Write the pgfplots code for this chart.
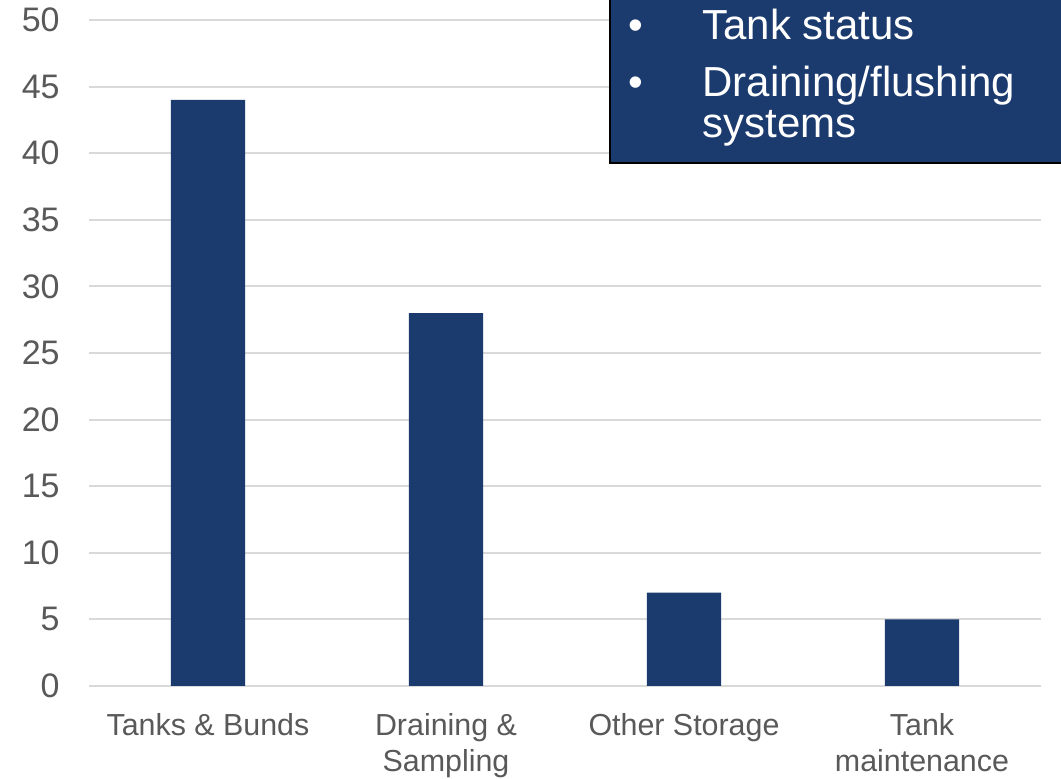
\documentclass[border=0pt]{standalone}
\usepackage{fontspec}
\setmainfont{Liberation Sans}
\usepackage{pgfplots}
\pgfplotsset{compat=1.18}
\definecolor{navy}{RGB}{27,58,110}
\definecolor{gridgray}{RGB}{217,217,217}
\definecolor{labelgray}{RGB}{89,89,89}
\begin{document}
\begin{tikzpicture}[x=0.5pt,y=0.5pt]
\path[use as bounding box, fill=white] (0,0) rectangle (1061,779);
\begin{axis}[
  at={(44.5pt,46.5pt)}, anchor=south west,
  scale only axis, width=476pt, height=333pt,
  xmin=-0.5, xmax=3.5, ymin=0, ymax=50,
  ytick={0,5,...,50},
  xtick={0,1,2,3},
  xticklabels={Tanks \& Bunds, Draining \&\\Sampling, Other Storage, Tank\\maintenance},
  ymajorgrids, grid style={gridgray, line width=1pt},
  axis line style={draw=none},
  major tick length=0pt,
  tick label style={labelgray},
  yticklabel style={font=\fontsize{17}{20}\selectfont, anchor=east, inner sep=0pt, xshift=-14.5pt},
  xticklabel style={font=\fontsize{15.2}{17.8}\selectfont, align=center, anchor=north, inner sep=0pt, yshift=-13.5pt},
  /pgf/number format/assume math mode=true,
  ybar, bar width=0.311, bar shift=0pt,
]
\addplot[fill=navy, draw=none] coordinates {(0,44) (1,28) (2,7) (3,5)};
\end{axis}
\begin{scope}
\clip (0,0) rectangle (1061,779);
\filldraw[fill=navy, draw=black, line width=1pt] (610,616) rectangle (1075,790);
\node[white, font=\fontsize{21}{25}\selectfont, anchor=base] at (636,739) {•};
\node[white, font=\fontsize{21}{25}\selectfont, anchor=base] at (636,682) {•};
\node[white, font=\fontsize{21}{25}\selectfont, anchor=base west, inner sep=0pt] at (702,739) {Tank status};
\node[white, font=\fontsize{21}{25}\selectfont, anchor=base west, inner sep=0pt] at (702,682) {Draining/flushing};
\node[white, font=\fontsize{21}{25}\selectfont, anchor=base west, inner sep=0pt] at (702,641) {systems};
\end{scope}
\end{tikzpicture}
\end{document}
